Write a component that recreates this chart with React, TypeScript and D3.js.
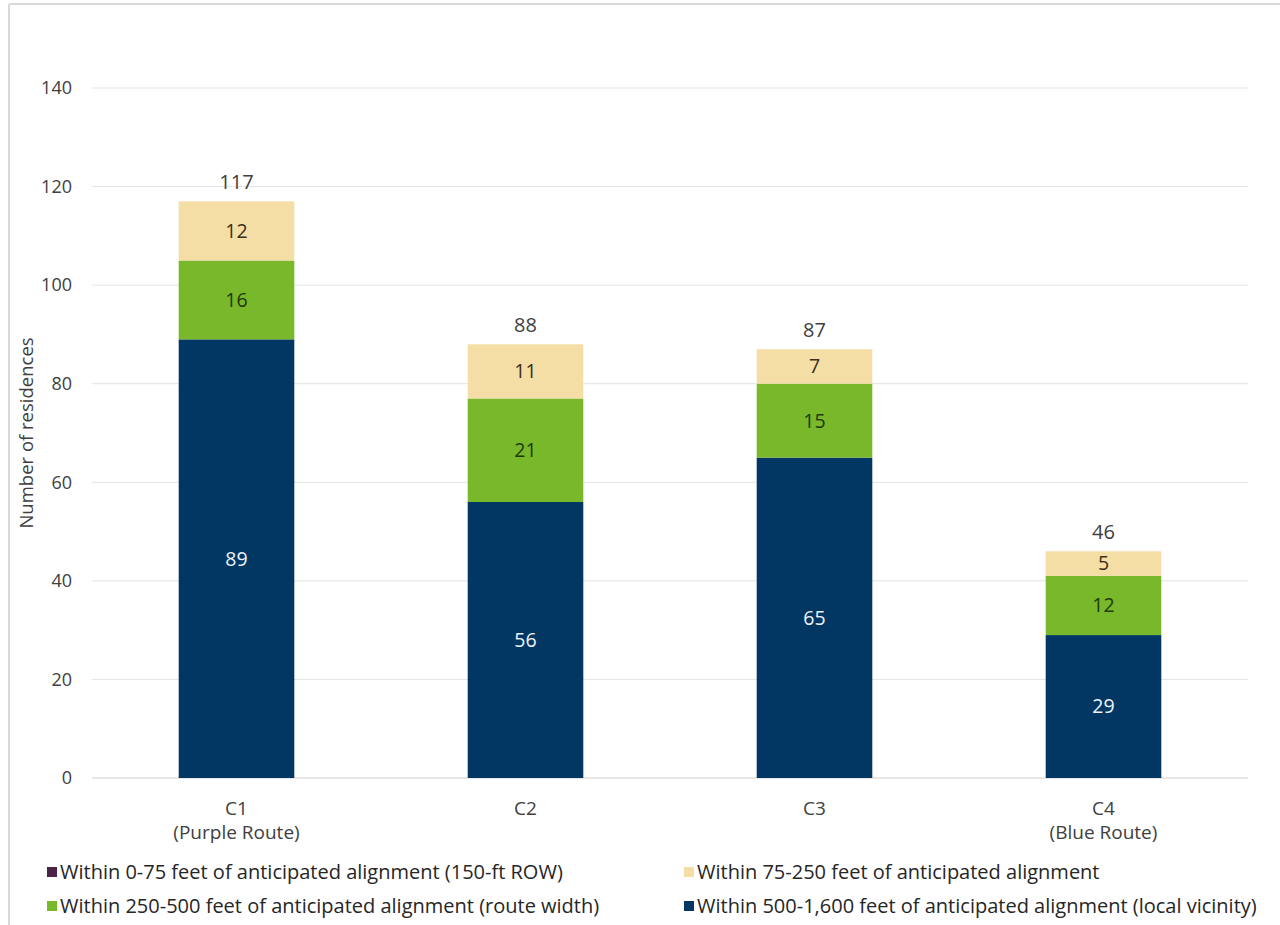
import React from "react";
import * as d3 from "d3";

const categories = ["C1|(Purple Route)", "C2", "C3", "C4|(Blue Route)"];
const seriesNames = [
  "Within 0-75 feet of anticipated alignment (150-ft ROW)",
  "Within 75-250 feet of anticipated alignment",
  "Within 250-500 feet of anticipated alignment (route width)",
  "Within 500-1,600 feet of anticipated alignment (local vicinity)",
];
const row0to75 = [0, 0, 0, 0];
const row500to1600 = [89, 56, 65, 29];
const row250to500 = [16, 21, 15, 12];
const row75to250 = [12, 11, 7, 5];
const totals = [117, 88, 87, 46];
const yTicks = [0, 20, 40, 60, 80, 100, 120, 140];

const colors = {
  purple: "#4b2346",
  beige: "#f4dea6",
  green: "#78b82a",
  navy: "#023764",
};

export default function App() {
  const W = 1280, H = 925;
  const left = 92, right = 1248, top = 88, bottom = 778;
  const x = d3.scaleBand().domain(categories).range([left, right]).paddingInner(0.6).paddingOuter(0.3);
  const y = d3.scaleLinear().domain([0, 140]).range([bottom, top]);
  const font = "'Open Sans', sans-serif";

  const stackKeys = ["navy", "green", "beige", "purple"];
  const stackData = categories.map((c, i) => ({
    cat: c,
    navy: row500to1600[i],
    green: row250to500[i],
    beige: row75to250[i],
    purple: row0to75[i],
  }));
  const stacked = d3.stack<any>().keys(stackKeys)(stackData);
  const labelColor: Record<string, string> = { navy: "#eef3fa", green: "#1d3a05", beige: "#3b2e17", purple: "#fff" };

  const legend = [
    { name: seriesNames[0], color: colors.purple, x: 47, y: 872 },
    { name: seriesNames[1], color: colors.beige, x: 684, y: 872 },
    { name: seriesNames[2], color: colors.green, x: 47, y: 906 },
    { name: seriesNames[3], color: colors.navy, x: 684, y: 906 },
  ];

  return (
    <svg width={W} height={H} style={{ position: "absolute", left: 0, top: 0, background: "#fff" }} fontFamily={font}>
      <line x1={9} x2={1280} y1={4} y2={4} stroke="#d9d9d9" strokeWidth={2} />
      <line x1={9} x2={9} y1={4} y2={925} stroke="#d9d9d9" strokeWidth={2} />
      {yTicks.map((t) => (
        <g key={t}>
          <line x1={left} x2={right} y1={y(t)} y2={y(t)} stroke={t === 0 ? "#d0d0d0" : "#e3e3e3"} strokeWidth={1} />
          <text x={72} y={y(t)} dy="0.35em" textAnchor="end" fontSize={18} fill="#404040">{t}</text>
        </g>
      ))}
      <text transform={`translate(33,${(top + bottom) / 2}) rotate(-90)`} textAnchor="middle" fontSize={18.5} fill="#404040">Number of residences</text>
      {stacked.map((s) => (
        <g key={s.key}>
          {s.map((d, i) => {
            const v = d[1] - d[0];
            if (v <= 0) return null;
            const bx = x(categories[i])!;
            return (
              <g key={i}>
                <rect x={bx} width={x.bandwidth()} y={y(d[1])} height={y(d[0]) - y(d[1])} fill={(colors as any)[s.key]} />
                <text x={bx + x.bandwidth() / 2} y={y((d[0] + d[1]) / 2)} dy="0.35em" textAnchor="middle" fontSize={19.5} fill={labelColor[s.key]}>{v}</text>
              </g>
            );
          })}
        </g>
      ))}
      {categories.map((c, i) => (
        <text key={c} x={x(c)! + x.bandwidth() / 2} y={y(totals[i]) - 12} textAnchor="middle" fontSize={20} fill="#404040">{totals[i]}</text>
      ))}
      {categories.map((c) => {
        const parts = c.split("|");
        return (
          <text key={c} x={x(c)! + x.bandwidth() / 2} y={815} textAnchor="middle" fontSize={19} fill="#404040">
            {parts.map((p, j) => (
              <tspan key={j} x={x(c)! + x.bandwidth() / 2} dy={j === 0 ? 0 : 24}>{p}</tspan>
            ))}
          </text>
        );
      })}
      {legend.map((l) => (
        <g key={l.name}>
          <rect x={l.x} y={l.y - 5} width={10} height={10} fill={l.color} />
          <text x={l.x + 13} y={l.y} dy="0.35em" fontSize={20} fill="#262626">{l.name}</text>
        </g>
      ))}
    </svg>
  );
}
